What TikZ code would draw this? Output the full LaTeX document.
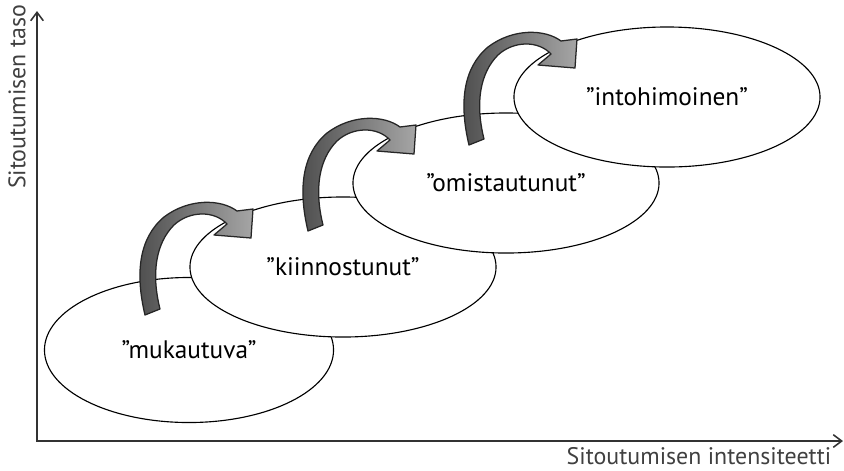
\documentclass[tikz,border=0pt]{standalone}
\usepackage{fontspec}
\setmainfont{PT Sans}
\usetikzlibrary{shapes.geometric,arrows.meta}

\begin{document}
\begin{tikzpicture}[x={(0.025cm,0cm)}, y={(0cm,-0.025cm)},
  stage/.style={draw, ellipse, fill=white, line width=0.8pt, inner sep=0pt,
    minimum width=7.65cm, minimum height=3.5cm, font=\fontsize{18}{21}\selectfont},
  axis/.style={draw=black!80, line width=1.1pt},
  axislabel/.style={text=black!75, font=\fontsize{17}{20}\selectfont},
  bendarrow/.style={draw=black!85, line width=0.9pt, line join=round,
    left color=black!70, right color=black!35}]
  \useasboundingbox (0,0) rectangle (844,470);

  % Axes
  \coordinate (Ytop) at (37,11);
  \coordinate (Xend) at (843,441);
  \draw[axis, {Straight Barb[length=6pt,width=9pt]}-{Straight Barb[length=6pt,width=9pt]}]
    (Ytop) |- (Xend);
  \node[axislabel, rotate=90] (Ylabel) at (17,97) {Sitoutumisen taso};
  \node[axislabel] (Xlabel) at (699,456) {Sitoutumisen intensiteetti};

  % Stages
  \node[stage, minimum width=7.225cm, minimum height=3.625cm] (Mukautuva) at (189,350) {”mukautuva”};
  \node[stage] (Kiinnostunut) at (343,267) {”kiinnostunut”};
  \node[stage] (Omistautunut) at (506,183) {”omistautunut”};
  \node[stage] (Intohimoinen) at (667,97) {”intohimoinen”};

  % Bent arrows, placed relative to the stage they point into
  \foreach \Target in {Kiinnostunut, Omistautunut, Intohimoinen}
    \draw[bendarrow, shift={(\Target.center)}]
      (-198,48) .. controls (-208,6) and (-204,-29) .. (-179,-50)
      .. controls (-154,-69) and (-122,-68) .. (-106,-56)
      -- (-90,-58) -- (-92,-29) -- (-129,-32) -- (-116,-43)
      .. controls (-129,-57) and (-154,-56) .. (-169,-42)
      .. controls (-187,-24) and (-192,6) .. (-183,42) -- cycle;
\end{tikzpicture}
\end{document}
